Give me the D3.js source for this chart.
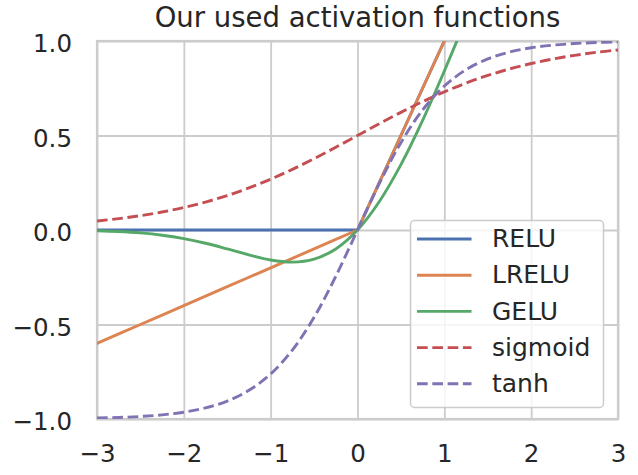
<!DOCTYPE html>
<html>
<head>
<meta charset="utf-8">
<script src="https://cdn.jsdelivr.net/npm/d3@7"></script>
<style>
  html, body { margin: 0; padding: 0; background: #ffffff; }
  svg { display: block; font-family: "DejaVu Sans", sans-serif; }
</style>
</head>
<body>
<svg id="chart" width="638" height="475"></svg>
<script>
// Sample positions along the x axis
const xs = [-3, -2.75, -2.5, -2.25, -2, -1.75, -1.5, -1.25, -1, -0.75, -0.5, -0.25,
            0, 0.25, 0.5, 0.75, 1, 1.25, 1.5, 1.75, 2, 2.25, 2.5, 2.75, 3];

// Activation outputs at each sample position
const reluVals = [0, 0, 0, 0, 0, 0, 0, 0, 0, 0, 0, 0,
                  0, 0.25, 0.5, 0.75, 1, 1.25, 1.5, 1.75, 2, 2.25, 2.5, 2.75, 3];
const lreluVals = [-0.6, -0.55, -0.5, -0.45, -0.4, -0.35, -0.3, -0.25, -0.2, -0.15, -0.1, -0.05,
                   0, 0.25, 0.5, 0.75, 1, 1.25, 1.5, 1.75, 2, 2.25, 2.5, 2.75, 3];
const geluVals = [-0.0040, -0.0082, -0.0155, -0.0275, -0.0455, -0.0701, -0.1002, -0.1320,
                  -0.1587, -0.1700, -0.1543, -0.1003, 0, 0.1497, 0.3457, 0.5800, 0.8413,
                  1.1180, 1.3998, 1.6798, 1.9545, 2.2226, 2.4845, 2.7418, 2.9960];
const sigmoidVals = [0.0474, 0.0601, 0.0759, 0.0953, 0.1192, 0.1480, 0.1824, 0.2227,
                     0.2689, 0.3208, 0.3775, 0.4378, 0.5, 0.5622, 0.6225, 0.6792, 0.7311,
                     0.7773, 0.8176, 0.8520, 0.8808, 0.9047, 0.9241, 0.9399, 0.9526];
const tanhVals = [-0.9951, -0.9919, -0.9866, -0.9780, -0.9640, -0.9414, -0.9051, -0.8483,
                  -0.7616, -0.6351, -0.4621, -0.2449, 0, 0.2449, 0.4621, 0.6351, 0.7616,
                  0.8483, 0.9051, 0.9414, 0.9640, 0.9780, 0.9866, 0.9919, 0.9951];

const seriesNames = ["RELU", "LRELU", "GELU", "sigmoid", "tanh"];
const seriesValues = [reluVals, lreluVals, geluVals, sigmoidVals, tanhVals];

// Tick positions and labels
const xTicks = [-3, -2, -1, 0, 1, 2, 3];
const yTicks = [-1.0, -0.5, 0.0, 0.5, 1.0];
const titleText = "Our used activation functions";

// Styling
const colors = ["#4c72b0", "#dd8452", "#55a868", "#c44e52", "#8172b3"];
const dashed = [false, false, false, true, true];
const smooth = [false, false, true, true, true];
const lineWidth = 2.9;
const dashPattern = "10.7,4.6";
const textColor = "#262626";
const gridColor = "#cccccc";
const tickFont = "24.5px";
const legendFont = "25px";
const titleFont = "27.5px";

const svg = d3.select("#chart");
const margin = { left: 97, right: 20, top: 41, bottom: 56 };
const W = 638, H = 475;
const plotW = W - margin.left - margin.right;
const plotH = H - margin.top - margin.bottom;

const x = d3.scaleLinear().domain([-3, 3]).range([0, plotW]);
const y = d3.scaleLinear().domain([-1, 1]).range([plotH, 0]);

const g = svg.append("g").attr("transform", `translate(${margin.left},${margin.top})`);

const fmtX = d => d < 0 ? "\u2212" + Math.abs(d) : String(d);
const fmtY = d => (d < 0 ? "\u2212" : "") + Math.abs(d).toFixed(1);

// Grid lines and tick labels
const xAxis = g.append("g")
  .attr("transform", `translate(0,${plotH})`)
  .call(d3.axisBottom(x).tickValues(xTicks).tickSize(-plotH).tickPadding(26).tickFormat(fmtX));
const yAxis = g.append("g")
  .call(d3.axisLeft(y).tickValues(yTicks).tickSize(-plotW).tickPadding(25).tickFormat(fmtY));

[xAxis, yAxis].forEach(ax => {
  ax.select(".domain").remove();
  ax.selectAll(".tick line").attr("stroke", gridColor).attr("stroke-width", 1.8);
  ax.selectAll(".tick text")
    .attr("fill", textColor)
    .style("font-family", "'DejaVu Sans', sans-serif")
    .style("font-size", tickFont);
});
xAxis.selectAll(".tick text").attr("dy", "0.71em");
yAxis.selectAll(".tick text").attr("dy", "0.43em");

// Plot frame
g.append("rect")
  .attr("x", 0).attr("y", 0).attr("width", plotW).attr("height", plotH)
  .attr("fill", "none").attr("stroke", gridColor).attr("stroke-width", 2.2);

// Clip curves to the axes
svg.append("defs").append("clipPath").attr("id", "plot-clip")
  .append("rect").attr("x", 0).attr("y", 0).attr("width", plotW).attr("height", plotH);

const lines = g.append("g").attr("clip-path", "url(#plot-clip)");
seriesValues.forEach((vals, i) => {
  const pts = xs.map((xv, j) => [xv, vals[j]]);
  const gen = d3.line()
    .x(d => x(d[0]))
    .y(d => y(d[1]))
    .curve(smooth[i] ? d3.curveCatmullRom.alpha(0.5) : d3.curveLinear);
  lines.append("path")
    .attr("d", gen(pts))
    .attr("fill", "none")
    .attr("stroke", colors[i])
    .attr("stroke-width", lineWidth)
    .attr("stroke-dasharray", dashed[i] ? dashPattern : null)
    .attr("stroke-linecap", dashed[i] ? "butt" : "square");
});

// Title
svg.append("text")
  .attr("x", margin.left + plotW / 2)
  .attr("y", 27)
  .attr("text-anchor", "middle")
  .attr("fill", textColor)
  .style("font-size", titleFont)
  .text(titleText);

// Legend
const legend = svg.append("g").attr("transform", "translate(410.5,220.5)");
legend.append("rect")
  .attr("width", 193).attr("height", 187).attr("rx", 4)
  .attr("fill", "#ffffff").attr("fill-opacity", 0.8)
  .attr("stroke", gridColor).attr("stroke-width", 1.5);
seriesNames.forEach((name, i) => {
  const cy = 18.5 + i * 36.2;
  legend.append("line")
    .attr("x1", 6.5).attr("x2", 61)
    .attr("y1", cy).attr("y2", cy)
    .attr("stroke", colors[i])
    .attr("stroke-width", lineWidth)
    .attr("stroke-dasharray", dashed[i] ? dashPattern : null);
  legend.append("text")
    .attr("x", 81.5).attr("y", cy).attr("dy", "0.33em")
    .attr("fill", textColor)
    .style("font-size", legendFont)
    .text(name);
});
</script>
</body>
</html>
